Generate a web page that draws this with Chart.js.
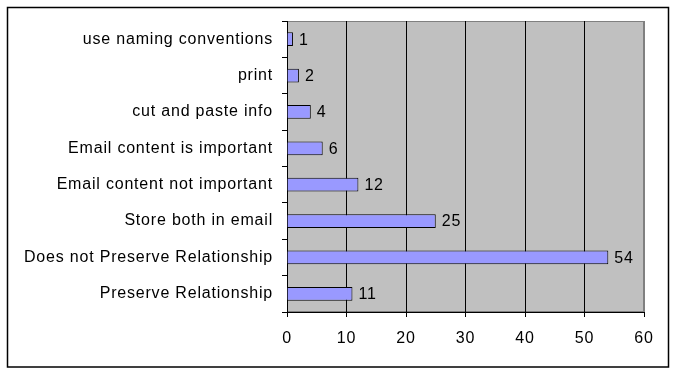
<!DOCTYPE html>
<html>
<head>
<meta charset="utf-8">
<script src="https://cdn.jsdelivr.net/npm/chart.js@4.4.1/dist/chart.umd.min.js"></script>
<style>
  html, body { margin: 0; padding: 0; background: #fff; }
  canvas { display: block; }
</style>
</head>
<body>
<canvas id="chart" width="677" height="375"></canvas>
<script>
const categories = [
  "use naming conventions",
  "print",
  "cut and paste info",
  "Email content is important",
  "Email content not important",
  "Store both in email",
  "Does not Preserve Relationship",
  "Preserve Relationship",
];
const counts = [1, 2, 4, 6, 12, 25, 54, 11];
const xTicks = [0, 10, 20, 30, 40, 50, 60];

const font = { family: "'Liberation Sans', Arial, sans-serif", size: 16 };
const spacing = "0.8px";

// Old Excel renders text a bit wider, so loosen the letters
const wideText = {
  id: "wideText",
  beforeLayout(chart) {
    chart.ctx.letterSpacing = spacing;
  },
  beforeDraw(chart) {
    chart.ctx.letterSpacing = spacing;
  },
};

// Grey plot area with a thin darker frame
const plotBackground = {
  id: "plotBackground",
  beforeDraw(chart) {
    const { ctx, chartArea: a } = chart;
    ctx.save();
    ctx.fillStyle = "#c0c0c0";
    ctx.fillRect(a.left, a.top, a.right - a.left, a.bottom - a.top);
    ctx.strokeStyle = "#808080";
    ctx.lineWidth = 1;
    ctx.strokeRect(a.left + 0.5, a.top + 0.5, a.right - a.left - 1, a.bottom - a.top - 1);
    ctx.restore();
  },
};

// Value labels to the right of each bar, plus the outer chart frame
const valueLabels = {
  id: "valueLabels",
  afterDatasetsDraw(chart) {
    const { ctx } = chart;
    const meta = chart.getDatasetMeta(0);
    ctx.save();
    ctx.fillStyle = "#000";
    ctx.font = `${font.size}px ${font.family}`;
    ctx.textAlign = "left";
    ctx.textBaseline = "middle";
    meta.data.forEach((bar, i) => {
      ctx.fillText(String(counts[i]), bar.x + 6, bar.y + 1);
    });
    ctx.restore();
  },
  afterDraw(chart) {
    const { ctx } = chart;
    ctx.save();
    ctx.strokeStyle = "#000";
    ctx.lineWidth = 1.5;
    ctx.strokeRect(7.5, 7.5, 661, 359.5);
    ctx.restore();
  },
};

new Chart(document.getElementById("chart"), {
  type: "bar",
  data: {
    labels: categories,
    datasets: [
      {
        data: counts,
        backgroundColor: "#9999ff",
        borderColor: "#000",
        borderWidth: 1,
        barPercentage: 0.38,
        categoryPercentage: 1,
      },
    ],
  },
  options: {
    indexAxis: "y",
    responsive: false,
    animation: false,
    layout: { padding: { left: 0, top: 21, right: 33, bottom: 0 } },
    plugins: { legend: { display: false }, tooltip: { enabled: false } },
    scales: {
      x: {
        min: 0,
        max: 60,
        afterBuildTicks: (scale) => {
          scale.ticks = xTicks.map((value) => ({ value }));
        },
        afterFit: (scale) => {
          scale.height = 63;
        },
        grid: {
          color: (c) => (c.tick && c.tick.value === 60 ? "#808080" : "#000"),
          tickColor: "#000",
          tickLength: 5,
          lineWidth: 1,
        },
        border: { color: "#000", width: 1 },
        ticks: { color: "#000", font, padding: 12, maxRotation: 0 },
      },
      y: {
        afterFit: (scale) => {
          scale.width = 287;
        },
        grid: {
          offset: true,
          drawOnChartArea: false,
          color: "#000",
          tickLength: 5,
        },
        border: { color: "#000", width: 1 },
        ticks: { color: "#000", font, padding: 9, autoSkip: false },
      },
    },
  },
  plugins: [wideText, plotBackground, valueLabels],
});
</script>
</body>
</html>
